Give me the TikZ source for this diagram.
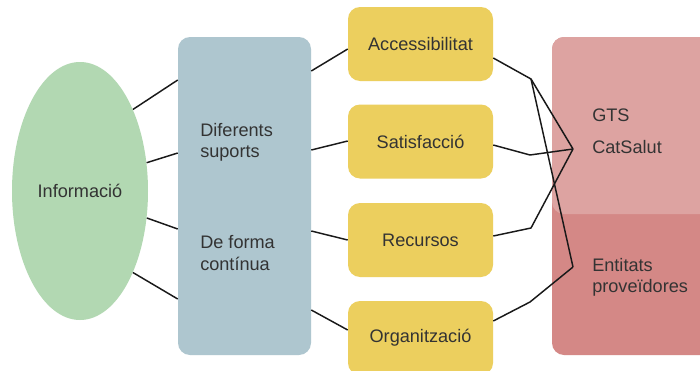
\documentclass[tikz,border=0pt]{standalone}
\usepackage{fontspec}
\setmainfont{Liberation Sans}
\usetikzlibrary{shapes.geometric}
\definecolor{greenfill}{HTML}{B2D8B2}
\definecolor{bluefill}{HTML}{AEC6CF}
\definecolor{yellowfill}{HTML}{ECCF5E}
\definecolor{pinklight}{HTML}{DDA3A1}
\definecolor{pinkdark}{HTML}{D48886}
\definecolor{txt}{HTML}{333333}
\begin{document}
\begin{tikzpicture}[x=0.75pt,y=-0.75pt,
  every node/.style={text=txt,font=\fontsize{13.6}{15.8}\selectfont,inner sep=0pt},
  ybox/.style={rectangle,rounded corners=9pt,fill=yellowfill,minimum width=108.75pt,minimum height=55.5pt},
  conn/.style={draw=black!90,line width=1.1pt,line join=round},
  lbl/.style={align=left,anchor=west}]
\clip (0,0) rectangle (700,371);
\fill[white] (0,0) rectangle (700,371);
% pink box
\node[rectangle,rounded corners=9pt,fill=pinkdark,minimum width=122.25pt,minimum height=238.5pt,
  path picture={\fill[pinklight] (path picture bounding box.north west) rectangle ([yshift=-132.75pt]path picture bounding box.north east);}] (ent) at (633.5,196) {};
% ellipse
\node[ellipse,fill=greenfill,minimum width=102pt,minimum height=193.5pt] (info) at (80,191) {};
\node (infot) at (80,191) {Informació};
% blue box
\node[rectangle,rounded corners=9pt,fill=bluefill,minimum width=99.75pt,minimum height=238.5pt] (sup) at (244.5,196) {};
\node[lbl] (t1) at (200,142.5) {Diferents\\suports};
\node[lbl] (t2) at (200,253) {De forma\\contínua};
% yellow boxes
\node[ybox] (acc) at (420.5,44) {Accessibilitat};
\node[ybox] (sat) at (420.5,141.5) {Satisfacció};
\node[ybox] (rec) at (420.5,240) {Recursos};
\node[ybox] (org) at (420.5,338) {Organització};
% pink texts
\node[lbl] (gts) at (592,115) {GTS};
\node[lbl] (cat) at (592,147) {CatSalut};
\node[lbl] (prv) at (592,277) {Entitats\\proveïdores};
% junction coordinates
\coordinate (ja) at (531,79);
\coordinate (js) at (530,155);
\coordinate (jr) at (531,228);
\coordinate (jo) at (530,302);
\coordinate (h1) at (573,149);
\coordinate (h2) at (573,267);
% connectors ellipse -> blue
\draw[conn] (info.57) -- (sup.west |- 0,80);
\draw[conn] (info.23) -- (sup.west |- 0,153);
\draw[conn] (info.-22) -- (sup.west |- 0,229);
\draw[conn] (info.-57) -- (sup.west |- 0,299);
% blue -> yellow
\draw[conn] (sup.east |- 0,71) -- (acc.west |- 0,49);
\draw[conn] (sup.east |- 0,150) -- (sat.west |- 0,141);
\draw[conn] (sup.east |- 0,231) -- (rec.west |- 0,240);
\draw[conn] (sup.east |- 0,310) -- (org.west |- 0,330);
% yellow -> pink
\draw[conn] (acc.east |- 0,58) -- (ja) -- (h1);
\draw[conn] (ja) -- (h2);
\draw[conn] (sat.east |- 0,145) -- (js) -- (h1);
\draw[conn] (rec.east |- 0,236) -- (jr) -- (h1);
\draw[conn] (org.east |- 0,321) -- (jo) -- (h2);
\end{tikzpicture}
\end{document}
